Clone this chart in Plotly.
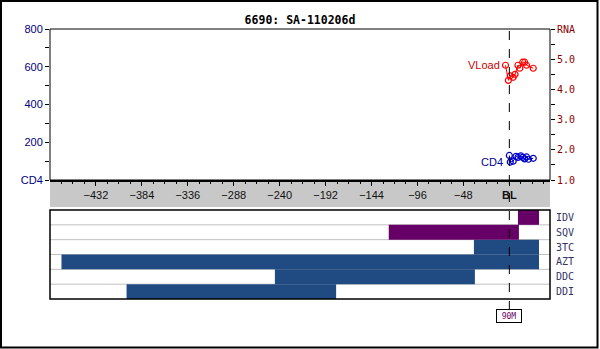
import plotly.graph_objects as go

# ---- data ----
title_text = "6690: SA-110206d"
vl_x = [-4, -1, 1, 4, 6, 9, 11, 14, 16, 18, 25]
vl_y = [4.8, 4.3, 4.45, 4.4, 4.5, 4.8, 4.7, 4.9, 4.9, 4.8, 4.7]
cd4_x = [0, 1, 4, 7, 9, 12, 14, 16, 18, 20, 25]
cd4_y = [130, 95, 100, 125, 120, 128, 120, 112, 122, 110, 115]

drugs = ["DDI", "DDC", "AZT", "3TC", "SQV", "IDV"]
drug_start = [-400, -245, -468, -37, -126, 9]
drug_end = [-181, -36, 31, 31, 10, 31]
drug_colors = ["#1F4A82", "#1F4A82", "#1F4A82", "#1F4A82", "#660066", "#660066"]

x_ticks = [-432, -384, -336, -288, -240, -192, -144, -96, -48, 0]
x_ticktext = ["\u2212432", "\u2212384", "\u2212336", "\u2212288", "\u2212240",
              "\u2212192", "\u2212144", "\u221296", "\u221248", "<b>BL</b>"]
x_minor = [v for v in range(-468, 43, 12)]
cd4_ticks = [0, 200, 400, 600, 800]
cd4_ticktext = ["CD4", "200", "400", "600", "800"]
rna_ticks = [1, 2, 3, 4, 5, 6]
rna_ticktext = ["1.0", "2.0", "3.0", "4.0", "5.0", "RNA"]
x_range = [-480, 42.5]

# ---- layout geometry (pixels) ----
W, H = 600, 349
L, R, T, B = 50, 50, 29, 50
ph = H - T - B


def py(y):
    return (H - B - y) / ph


def px(x):
    return (x - L) / (W - L - R)


fig = go.Figure()

fig.add_trace(go.Scatter(
    x=vl_x, y=vl_y, xaxis="x", yaxis="y2", mode="lines+markers",
    line=dict(color="#FF0000", width=1),
    marker=dict(symbol="circle-open", size=6, color="#FF0000", line=dict(width=1.2)),
    showlegend=False, hoverinfo="skip"))
fig.add_trace(go.Scatter(
    x=cd4_x, y=cd4_y, xaxis="x", yaxis="y", mode="lines+markers",
    line=dict(color="#0000CC", width=1),
    marker=dict(symbol="circle-open", size=6, color="#0000CC", line=dict(width=1.2)),
    showlegend=False, hoverinfo="skip"))

for d, s, e, c in zip(drugs, drug_start, drug_end, drug_colors):
    fig.add_trace(go.Bar(
        y=[d], x=[e - s], base=[s], orientation="h", width=1.0,
        marker=dict(color=c, line=dict(width=0)),
        xaxis="x2", yaxis="y3", showlegend=False, hoverinfo="skip"))

top_dom = [py(180), 1.0]
bot_dom = [0.0, py(210)]

fig.update_layout(
    width=W, height=H,
    margin=dict(l=L, r=R, t=T, b=B, pad=0),
    paper_bgcolor="white", plot_bgcolor="white",
    barmode="overlay",
    title=dict(text="<b>" + title_text + "</b>", x=0.5, xanchor="center",
               y=1 - 20 / H, yanchor="middle",
               font=dict(family="DejaVu Sans Mono", size=11.5, color="#000000")),
    xaxis=dict(domain=[0, 1], anchor="y", range=x_range, tickmode="array",
               tickvals=x_ticks, ticktext=x_ticktext, ticks="outside", ticklen=4,
               tickwidth=1, tickcolor="#000", showgrid=False, zeroline=False,
               showline=True, linewidth=2, linecolor="#000",
               tickfont=dict(family="Liberation Sans", size=11, color="#111"),
               minor=dict(tickvals=x_minor, ticks="outside", ticklen=2,
                          tickcolor="#000", showgrid=False)),
    yaxis=dict(domain=top_dom, anchor="x", range=[0, 800], tickmode="array",
               tickvals=cd4_ticks, ticktext=cd4_ticktext, ticks="outside",
               ticklen=4, tickcolor="#000", showgrid=False, zeroline=False,
               showline=False,
               tickfont=dict(family="Liberation Sans", size=11, color="#000080"),
               minor=dict(tickvals=[100, 300, 500, 700], ticks="outside",
                          ticklen=4, tickcolor="#000")),
    yaxis2=dict(overlaying="y", side="right", anchor="x", range=[1, 6],
                tickmode="array", tickvals=rna_ticks, ticktext=rna_ticktext,
                ticks="outside", ticklen=4, tickcolor="#000", showgrid=False,
                zeroline=False, showline=False,
                tickfont=dict(family="DejaVu Sans Mono", size=10, color="#8B0000"),
                minor=dict(tickvals=[1.5, 2.5, 3.5, 4.5, 5.5], ticks="outside",
                           ticklen=4, tickcolor="#000")),
    xaxis2=dict(domain=[0, 1], anchor="y3", range=x_range, showticklabels=False,
                ticks="", showgrid=False, zeroline=False, showline=False),
    yaxis3=dict(domain=bot_dom, anchor="x2", side="right", type="category",
                categoryorder="array", categoryarray=drugs,
                range=[-0.5, len(drugs) - 0.5], ticks="outside", ticklen=3,
                tickcolor="rgba(0,0,0,0)", showgrid=False,
                zeroline=False, showline=False,
                tickfont=dict(family="DejaVu Sans Mono", size=10, color="#333366")),
)

shapes = []
# gray band behind x tick labels
shapes.append(dict(type="rect", xref="paper", yref="paper", x0=0, x1=1,
                   y0=py(207), y1=py(181), fillcolor="#C8C8C8",
                   line=dict(width=0), layer="below"))
# top panel box
shapes.append(dict(type="rect", xref="paper", yref="paper", x0=0, x1=1,
                   y0=top_dom[0], y1=top_dom[1], line=dict(color="#000", width=1)))
# row separators in the drug panel
for i in range(len(drugs) - 1):
    shapes.append(dict(type="line", xref="paper", yref="y3", x0=0, x1=1,
                       y0=i + 0.5, y1=i + 0.5, line=dict(color="#C0C0C0", width=1),
                       layer="below"))
# bottom panel box
shapes.append(dict(type="rect", xref="paper", yref="paper", x0=0, x1=1,
                   y0=bot_dom[0], y1=bot_dom[1], line=dict(color="#000", width=1.5)))
# dashed baseline marker
shapes.append(dict(type="line", xref="x", yref="paper", x0=0, x1=0,
                   y0=py(310), y1=1, line=dict(color="#000", width=1, dash="dash")))
# outer frame
shapes.append(dict(type="rect", xref="paper", yref="paper", x0=px(1), x1=px(597.5),
                   y0=py(347.5), y1=py(1), line=dict(color="#000", width=2)))
fig.update_layout(shapes=shapes)

fig.add_annotation(x=vl_x[0], y=vl_y[0], xref="x", yref="y2", text="VLoad",
                   showarrow=False, xanchor="right", yanchor="middle", xshift=-4,
                   font=dict(family="Liberation Sans", size=11, color="#CC0000"))
fig.add_annotation(x=cd4_x[0], y=cd4_y[1], xref="x", yref="y", text="CD4",
                   showarrow=False, xanchor="right", yanchor="middle", xshift=-4,
                   font=dict(family="Liberation Sans", size=11, color="#000099"))
fig.add_annotation(x=0, y=py(316), xref="x", yref="paper", text="90M",
                   showarrow=False, xanchor="center", yanchor="middle",
                   bordercolor="#000", borderwidth=1, borderpad=2, bgcolor="white",
                   width=20, height=8,
                   font=dict(family="DejaVu Sans Mono", size=8, color="#660066"))

fig.write_html("out.html")
